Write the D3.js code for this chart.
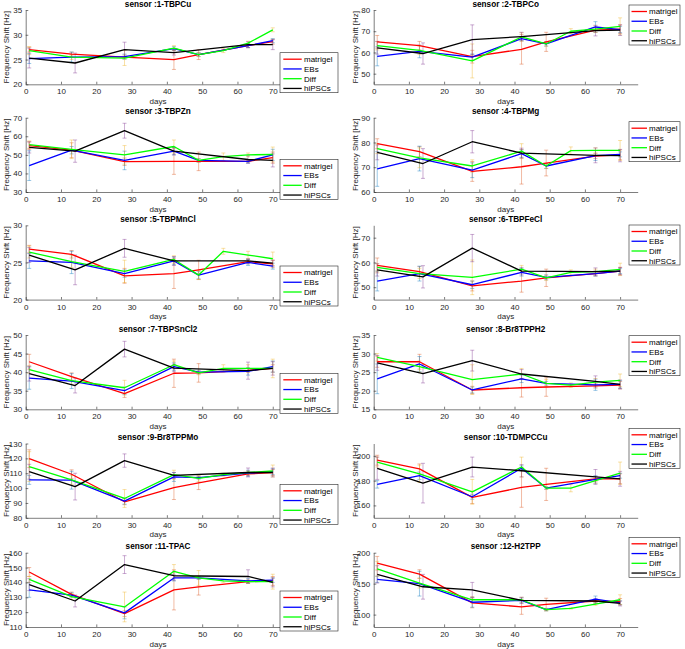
<!DOCTYPE html>
<html><head><meta charset="utf-8">
<script src="https://cdn.jsdelivr.net/npm/d3@7"></script>
<style>
body{margin:0;background:#fff}
svg{display:block}
text{font-family:"Liberation Sans",Arial,Helvetica,sans-serif}
</style>
</head><body>
<svg id="c" width="685" height="649"></svg>
<script>
// ---------------- DATA ----------------
const sensors = ["sensor :1-TBPCu","sensor :2-TBPCo","sensor :3-TBPZn","sensor :4-TBPMg",
  "sensor :5-TBPMnCl","sensor :6-TBPFeCl","sensor :7-TBPSnCl2","sensor :8-Br8TPPH2",
  "sensor :9-Br8TPPMo","sensor :10-TDMPCCu","sensor :11-TPAC","sensor :12-H2TPP"];
const seriesNames = ["matrigel","EBs","Diff","hiPSCs"];
const daysMatrigel = [1,13,28,42,49,63,70];
const daysEBs = [1,13,28,42,49,63,70];
const daysDiff = [1,13,28,42,49,56,63,70];
const daysHiPSCs = [1,14,28,42,63,70];
const xTicks = [0,10,20,30,40,50,60,70];
const xRange = [0,75];
const yRanges = [[20,35],[45,80],[30,70],[60,90],[20,30],[45,75],[30,50],[15,35],[80,130],[150,210],[110,160],[80,200]];
const yTicks = [[20,25,30,35],[50,60,70,80],[30,40,50,60,70],[60,70,80,90],[20,25,30],[50,60,70],
  [30,35,40,45,50],[15,20,25,30,35],[80,90,100,110,120,130],[160,180,200],[110,120,130,140,150,160],[100,150,200]];

const matrigelMean = [
  [27.0,26.1,25.5,25.0,26.0,27.8,28.6],
  [65,63.2,58,61.5,65,70.5,71],
  [55,52.5,46.3,46.5,46.5,46.5,48.5],
  [79.5,76.3,68.3,70.2,71.7,74.5,75],
  [26.8,26.1,23.2,23.5,24.0,25.1,24.8],
  [58.8,56.3,50.5,52.5,53.8,55.5,56.5],
  [42.8,38.8,34.2,39.7,39.8,40.5,41.0],
  [27.8,27.8,20.2,20.8,21.0,21.3,21.5],
  [119.8,109.3,90.8,100.3,103.5,109.5,110.5],
  [196.5,189.5,166.5,174.5,177,181.5,181.5],
  [147,132,119,135,137,140.5,141],
  [183,165.5,119,112.5,116.5,122,121]];
const matrigelErr = [
  [0.5,0.4,0.4,2.0,1.0,0.4,0.5],
  [3,2,3,7,4.5,1,2],
  [2,4,2,7,5,0.5,3],
  [2,2,4,7,5.2,1,2],
  [0.5,0.5,1,2,1.3,0.3,0.5],
  [3,2,2,4.5,3.5,1,1.5],
  [2,1,1,3.8,2.5,0.5,1],
  [1.5,2,1,2.5,2.5,0.6,1],
  [6,3,2,8,4.5,1,2],
  [4,4,5,16,13,2,4],
  [3,1.5,2,13.5,5.5,1,3],
  [11,7,8,12,10,2,5]];

const ebsMean = [
  [25.2,25.5,25.6,27.2,26.0,27.8,28.8],
  [58.2,60.5,57.8,66.5,64,72,70.8],
  [44.2,52.5,47,52,47,46.5,50],
  [69.3,73.5,68.8,75.5,70.5,74.7,75.2],
  [25.2,25.0,23.5,25.2,23.3,25.0,24.5],
  [52.5,55.5,51,56,54,55.5,56.5],
  [38.4,37.6,35.0,41.5,40.0,40.2,41.5],
  [23.2,27.2,20.2,23.2,22.0,21.6,21.7],
  [105.5,105.3,91.2,107.5,107,110,111],
  [177,184,167,190,174,181,184],
  [135,131.5,119.5,143,143,141,141.5],
  [157,150,120,123,108,125,119]];
const ebsErr = [
  [1.0,1.0,0.5,0.4,0.4,0.4,0.4],
  [4.5,3,1.5,1,1,2.5,1.5],
  [8,2,5,2,1,1,3],
  [7,5,3,1.5,1,2,1],
  [1,1.5,0.5,0.5,0.5,0.4,0.4],
  [4,3,1.5,1.5,1,1,1],
  [3,2,1,1,0.5,1,1.5],
  [4,2,0.8,1,0.5,1.5,1],
  [3,6,2,3,1,2,2],
  [3,3,2,2,1,3,2],
  [5,1.5,4,2,1,1.5,1.5],
  [5,20,8,4,2,5,3]];

const diffMean = [
  [26.8,25.5,25.3,27.3,26.0,26.8,28.3,31.0],
  [63.2,61,56,67.3,64,70,71,72.3],
  [55.5,53,50,54.5,47,49,50,50.2],
  [77.5,73.8,70.5,76.5,70.5,76.7,76.8,76.8],
  [26.4,25.1,23.8,25.4,23.3,26.5,26.0,25.5],
  [58,55.5,54,57.3,53.8,56,56.3,57.2],
  [40.7,37.7,35.8,42,39.8,41,41,41],
  [29.0,26.5,23.0,24.5,22.0,21.5,22.3,22.8],
  [114.5,105.5,93,109,106.5,109,110.5,111.5],
  [195,185.5,171,191,174,174,180,186],
  [142,130.5,123.5,147.5,143,141,140.5,140.5],
  [174,151,124,124,108,110,117,124]];
const diffErr = [
  [0.8,0.5,1.5,0.5,0.4,0.4,0.4,0.4],
  [2,2,8,2,1,1.2,1.5,4],
  [2,5,5,3.5,1,2,1,4],
  [2,4,2.5,3,1,1.5,1,4],
  [0.8,0.8,1.5,0.5,0.6,0.4,0.5,0.9],
  [1.5,2,7,1.5,1,1,1,2.5],
  [1,1,2,1,0.5,1,1,2.5],
  [1,1.5,4,1.5,1,0.6,1,1.7],
  [10,3,6,3,2,1,1,4],
  [4,7,10,8,1,3,2,9],
  [2,2,10,4.5,5,1,1,5],
  [12,8,5,4,2,1,2,8]];

const hipscMean = [
  [25.3,24.3,27.0,26.4,28.0,28.0],
  [62.2,59.5,66,67.5,70.3,70.5],
  [54,52,63,52,47.5,47],
  [76,71.5,80.3,75.7,74.8,74.7],
  [26.0,24.0,26.9,25.2,25.2,24.9],
  [57,54.2,65.8,56.5,56.3,56.5],
  [39.6,36.4,46.2,41.1,40.4,41.0],
  [27.5,24.6,28.1,24.5,22.5,21.7],
  [111,101,118.5,108.5,110.5,110.5],
  [190,178,191,188,183,181.5],
  [138.5,127.5,152,144.5,144,140],
  [165,145,140,123,122,118]];
const hipscErr = [
  [2.0,2.0,1.5,0.5,0.6,1.0],
  [3,5,7,2,2.5,2.5],
  [3,6,4,2,2,3.5],
  [3,6,4.5,2,3,2.5],
  [1,2,1.2,0.6,0.3,0.4],
  [2.5,4.5,5.5,1.5,1.5,1.5],
  [2,2,2.1,1,2.3,1.8],
  [2,2.5,2.8,1.2,1.5,1.2],
  [5,9,4.5,2,3,3],
  [9,16,8,5,6,6],
  [4,4,6,3,4.5,3],
  [14,20,12,5,4,4]];

// ---------------- LAYOUT / STYLE ----------------
const colX = [[25.7,290.4],[373.7,637.7]];
const rowTop = [10,117.7,225.3,335,443.5,552.7];
const plotH = 74.3;
const legendTop = [52.7,5,159.3,121.7,266,225,373.3,335.7,484.3,428.3,591,537.3];
const legendBox = [{x:280,w:58,lx:283.3,lw:18.4,tx:304},{x:629,w:51,lx:631.5,lw:15.5,tx:649}];
const lineColors = ["#ff0000","#0000ff","#00ff00","#000000"];
const errColors = ["#D95319","#0072BD","#EDB120","#7E2F8E"];
const axisColor = "#262626";

const allDays = [daysMatrigel,daysEBs,daysDiff,daysHiPSCs];
const allMeans = [matrigelMean,ebsMean,diffMean,hipscMean];
const allErrs = [matrigelErr,ebsErr,diffErr,hipscErr];

const svg = d3.select("#c");
const defs = svg.append("defs");

sensors.forEach((name,i)=>{
  const col = i%2, row = Math.floor(i/2);
  const top = rowTop[row], bottom = top+plotH;
  const x = d3.scaleLinear().domain(xRange).range(colX[col]);
  const y = d3.scaleLinear().domain(yRanges[i]).range([bottom,top]);
  const g = svg.append("g");

  defs.append("clipPath").attr("id","clip"+i).append("rect")
    .attr("x",colX[col][0]).attr("y",top).attr("width",colX[col][1]-colX[col][0]).attr("height",plotH);
  const pg = g.append("g").attr("clip-path","url(#clip"+i+")");

  // error bars
  seriesNames.forEach((s,si)=>{
    const days = allDays[si], means = allMeans[si][i], errs = allErrs[si][i];
    const eg = pg.append("g").attr("stroke",errColors[si]).attr("stroke-opacity",0.5).attr("stroke-width",0.8).attr("fill","none");
    days.forEach((d,k)=>{
      const m = means[k], e = errs[k], cx = x(d);
      eg.append("line").attr("x1",cx).attr("x2",cx).attr("y1",y(m-e)).attr("y2",y(m+e));
      eg.append("line").attr("x1",cx-2).attr("x2",cx+2).attr("y1",y(m-e)).attr("y2",y(m-e));
      eg.append("line").attr("x1",cx-2).attr("x2",cx+2).attr("y1",y(m+e)).attr("y2",y(m+e));
    });
  });

  // lines
  seriesNames.forEach((s,si)=>{
    const days = allDays[si], means = allMeans[si][i];
    const pts = days.map((d,k)=>[d,means[k]]);
    pg.append("path").datum(pts)
      .attr("d",d3.line().x(p=>x(p[0])).y(p=>y(p[1])))
      .attr("fill","none").attr("stroke",lineColors[si]).attr("stroke-width",1.3)
      .attr("stroke-linejoin","round");
  });

  // axes
  const xa = g.append("g").attr("transform",`translate(0,${bottom})`)
    .call(d3.axisBottom(x).tickValues(xTicks).tickSizeInner(-2.6).tickSizeOuter(0).tickPadding(4.3));
  const ya = g.append("g").attr("transform",`translate(${colX[col][0]},0)`)
    .call(d3.axisLeft(y).tickValues(yTicks[i]).tickSizeInner(-2.6).tickSizeOuter(0).tickPadding(3.5));
  [xa,ya].forEach(a=>{
    a.selectAll("path,line").attr("stroke",axisColor).attr("stroke-width",0.6);
    a.selectAll("text").attr("fill",axisColor).style("font-size","8px").style("font-family",'"Liberation Sans",Arial,sans-serif');
  });

  // labels
  g.append("text").attr("x",(colX[col][0]+colX[col][1])/2).attr("y",bottom+19.5)
    .attr("text-anchor","middle").attr("fill",axisColor).style("font-size","8px").text("days");
  g.append("text").attr("transform",`translate(${col===0?8.8:358},${(top+bottom)/2}) rotate(-90)`)
    .attr("text-anchor","middle").attr("fill",axisColor).style("font-size","8px").text("Frequency Shift [Hz]");
  g.append("text").attr("x",(colX[col][0]+colX[col][1])/2).attr("y",top-3.4)
    .attr("text-anchor","middle").attr("fill","#000").style("font-size","8.2px").style("font-weight","bold").text(name);

  // legend
  const lb = legendBox[col], lt = legendTop[i];
  const lg = g.append("g");
  lg.append("rect").attr("x",lb.x).attr("y",lt).attr("width",lb.w).attr("height",40)
    .attr("fill","#fff").attr("stroke",axisColor).attr("stroke-width",0.6);
  seriesNames.forEach((s,si)=>{
    const cy = lt+6.5+si*9.75;
    lg.append("line").attr("x1",lb.lx).attr("x2",lb.lx+lb.lw).attr("y1",cy).attr("y2",cy)
      .attr("stroke",lineColors[si]).attr("stroke-width",1.3);
    lg.append("text").attr("x",lb.tx).attr("y",cy+2.9).attr("fill","#000").style("font-size","8px").text(s);
  });
});
</script>
</body></html>
